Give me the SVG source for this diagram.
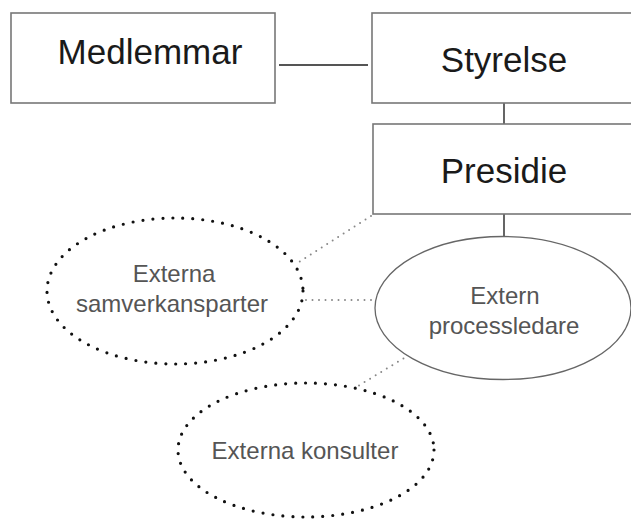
<svg xmlns="http://www.w3.org/2000/svg" width="631" height="525" viewBox="0 0 631 525">
<style>
.box{fill:#fff;stroke:#777;stroke-width:1.6}
.big{font-family:"Liberation Sans",Arial,sans-serif;font-size:35px;fill:#1a1a1a;text-anchor:middle}
.small{font-family:"Liberation Sans",Arial,sans-serif;font-size:24px;fill:#555;text-anchor:middle}
.solid{fill:#fff;stroke:#666;stroke-width:1.3}
.dotted{fill:none;stroke:#111;stroke-width:3.2;stroke-linecap:round;stroke-dasharray:0 10}
.line{stroke:#555;stroke-width:1.8;fill:none}
.dline{stroke:#888;stroke-width:2;stroke-linecap:round;stroke-dasharray:0 6.5;fill:none}
</style>
<rect width="631" height="525" fill="#fff"/>
<g id="connectors">
<line class="line" x1="279" y1="65" x2="368" y2="65"/>
<line class="line" x1="504" y1="103" x2="504" y2="124"/>
<line class="line" x1="504" y1="214" x2="504" y2="237"/>
<line class="dline" x1="371" y1="216" x2="299" y2="262"/>
<line class="dline" x1="306" y1="300" x2="373" y2="300"/>
<line class="dline" x1="409" y1="355" x2="358" y2="386"/>
</g>
<g id="medlemmar">
<rect class="box" x="11" y="13" width="264" height="90"/>
<text class="big" x="150" y="64">Medlemmar</text>
</g>
<g id="styrelse">
<rect class="box" x="372" y="13" width="270" height="90"/>
<text class="big" x="504" y="72">Styrelse</text>
</g>
<g id="presidie">
<rect class="box" x="373" y="124" width="270" height="90"/>
<text class="big" x="504" y="183">Presidie</text>
</g>
<g id="extern-processledare">
<ellipse class="solid" cx="503" cy="308" rx="128" ry="71.5"/>
<text class="small" x="505" y="304">Extern</text>
<text class="small" x="504" y="334">processledare</text>
</g>
<g id="externa-samverkansparter">
<ellipse class="dotted" cx="175" cy="291" rx="128" ry="73"/>
<text class="small" x="174" y="282">Externa</text>
<text class="small" x="172" y="312">samverkansparter</text>
</g>
<g id="externa-konsulter">
<ellipse class="dotted" cx="306" cy="450" rx="128" ry="67"/>
<text class="small" x="305" y="459">Externa konsulter</text>
</g>
</svg>
